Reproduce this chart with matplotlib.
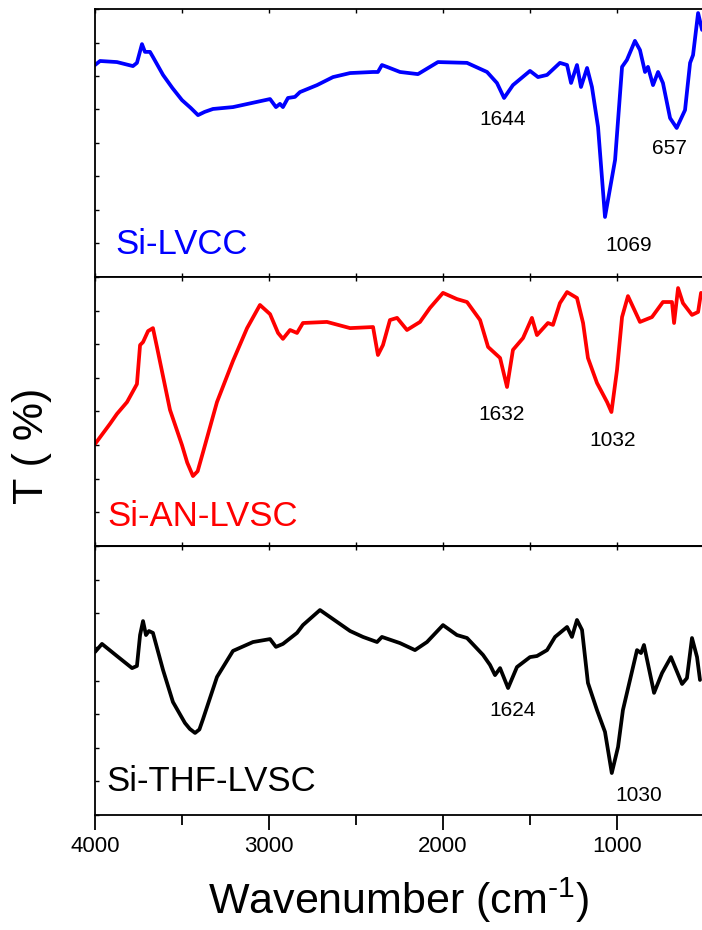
import numpy as np
import matplotlib
matplotlib.use('Agg')
import matplotlib.pyplot as plt

plt.rcParams['font.family'] = ['Liberation Sans', 'DejaVu Sans']
plt.rcParams['mathtext.fontset'] = 'custom'
plt.rcParams['mathtext.rm'] = 'Liberation Sans'
plt.rcParams['mathtext.it'] = 'Liberation Sans'

# Spectra (wavenumber in cm-1, transmittance in arbitrary units per panel)
wn_lvcc = [4000, 3971, 3874, 3782, 3759, 3730, 3713, 3684, 3667, 3609, 3555, 3500,
           3450, 3408, 3370, 3322, 3207, 2994, 2960, 2937, 2920, 2891, 2851, 2822,
           2724, 2632, 2534, 2402, 2374, 2351, 2322, 2247, 2144, 2029, 1862, 1747,
           1690, 1649, 1598, 1500, 1454, 1402, 1328, 1287, 1264, 1230, 1207, 1172,
           1144, 1109, 1069, 1011, 971, 943, 897, 868, 839, 822, 793, 764, 736,
           695, 657, 609, 580, 563, 534, 511]
t_lvcc = [79.1, 80.6, 80.2, 78.7, 79.9, 86.9, 84.0, 84.0, 82.1, 75.4, 70.5, 66.0,
          63.1, 60.4, 61.6, 62.7, 63.4, 66.4, 63.4, 64.6, 63.4, 66.8, 67.2, 69.0,
          71.6, 74.6, 76.1, 76.5, 76.5, 79.1, 78.4, 76.5, 75.7, 80.2, 79.9, 76.5,
          72.4, 66.8, 71.6, 76.9, 74.6, 75.4, 79.9, 79.1, 72.4, 79.1, 70.9, 78.0,
          70.9, 56.0, 22.4, 43.7, 78.4, 81.0, 88.1, 84.7, 76.5, 78.4, 71.6, 76.5,
          72.4, 59.3, 55.6, 62.3, 79.9, 82.8, 98.5, 92.2]

wn_an = [4000, 3914, 3874, 3816, 3759, 3741, 3724, 3695, 3667, 3644, 3569, 3500,
         3470, 3437, 3410, 3379, 3299, 3207, 3126, 3052, 2994, 2948, 2920, 2879,
         2839, 2805, 2667, 2534, 2402, 2374, 2345, 2305, 2264, 2207, 2132, 2075,
         2000, 1920, 1862, 1787, 1741, 1672, 1632, 1598, 1540, 1489, 1460, 1397,
         1368, 1328, 1287, 1230, 1195, 1167, 1115, 1057, 1032, 1000, 971, 937,
         868, 799, 736, 684, 672, 649, 621, 569, 534, 517]
t_an = [37.9, 45.4, 49.1, 53.5, 60.2, 74.7, 75.8, 79.9, 81.0, 74.0, 50.6, 37.5,
        31.0, 26.0, 27.8, 34.9, 53.5, 68.8, 81.0, 89.6, 86.2, 79.2, 77.0, 80.3,
        79.2, 82.9, 83.3, 81.0, 81.4, 71.0, 74.7, 84.0, 84.8, 80.3, 83.3, 88.5,
        94.1, 91.8, 90.7, 84.0, 74.0, 69.9, 59.1, 72.9, 77.3, 84.8, 78.4, 82.9,
        82.2, 90.3, 94.4, 92.2, 82.9, 69.9, 60.6, 53.5, 49.8, 65.4, 85.1, 92.9,
        83.3, 85.1, 90.7, 90.7, 82.9, 95.9, 90.3, 85.9, 87.0, 94.1]

wn_thf = [4000, 3960, 3874, 3787, 3759, 3741, 3724, 3707, 3690, 3667, 3609, 3552,
          3483, 3455, 3425, 3400, 3379, 3299, 3207, 3092, 2994, 2960, 2920, 2839,
          2805, 2707, 2534, 2460, 2379, 2351, 2247, 2161, 2092, 2000, 1920, 1862,
          1770, 1730, 1701, 1672, 1626, 1575, 1500, 1460, 1402, 1356, 1287, 1259,
          1230, 1201, 1167, 1115, 1069, 1030, 994, 966, 885, 862, 845, 787, 741,
          690, 626, 598, 569, 540, 523]
t_thf = [60.6, 63.6, 59.1, 54.6, 55.4, 66.9, 72.1, 66.9, 68.4, 67.7, 53.9, 42.0,
         34.2, 32.0, 30.5, 31.8, 35.7, 51.3, 61.0, 64.3, 65.4, 62.5, 63.6, 67.7,
         70.6, 76.2, 68.4, 66.2, 64.3, 66.2, 63.9, 61.3, 64.3, 70.6, 66.9, 65.8,
         59.5, 55.8, 52.0, 54.6, 47.2, 55.0, 58.7, 59.1, 61.3, 66.2, 69.9, 66.2,
         72.5, 68.8, 49.1, 39.0, 30.9, 15.6, 25.3, 39.0, 61.3, 60.2, 63.2, 45.4,
         52.8, 58.7, 48.7, 50.9, 65.8, 58.7, 50.2]

samples = ['Si-LVCC', 'Si-AN-LVSC', 'Si-THF-LVSC']
colors = ['#0000ff', '#ff0000', '#000000']
series = [(wn_lvcc, t_lvcc), (wn_an, t_an), (wn_thf, t_thf)]

# peak annotations: (text, x, y)
peaks = [
    [('1644', 1655, 58.6), ('1069', 931, 11.9), ('657', 701, 48.1)],
    [('1632', 1661, 48.7), ('1032', 1023, 39.4)],
    [('1624', 1603, 39.0), ('1030', 874, 7.4)],
]
name_pos = [(3885, 12.0), (3931, 10.8), (3937, 12.3)]

W, H = 702, 930
fig = plt.figure(figsize=(W / 100, H / 100), dpi=100)

edges = [9, 277, 546, 815]
left, right = 95, 704

axes = []
for i in range(3):
    top_px, bot_px = edges[i], edges[i + 1]
    ax = fig.add_axes([left / W, 1 - bot_px / H,
                       (right - left) / W, (bot_px - top_px) / H])
    axes.append(ax)

    wn, t = series[i]
    ax.plot(wn, t, color=colors[i], linewidth=2.7, solid_joinstyle='round',
            solid_capstyle='round')

    ax.set_xlim(4000, 500)
    ax.set_ylim(0, 100)
    ax.set_xticks([4000, 3000, 2000, 1000])
    ax.set_xticks([3500, 2500, 1500], minor=True)
    ax.set_yticks(np.arange(0, 101, 12.5))
    ax.set_yticklabels([])

    for s in ax.spines.values():
        s.set_linewidth(1.3)

    ax.tick_params(axis='y', which='both', direction='in', length=3,
                   width=1.0, left=True, right=False)
    if i < 2:
        ax.tick_params(axis='x', which='both', direction='in', length=3,
                       width=1.0, top=True, bottom=True, labelbottom=False)
    else:
        ax.tick_params(axis='x', which='major', direction='out', length=11,
                       width=1.3, top=False, labelsize=16, pad=4)
        ax.tick_params(axis='x', which='minor', direction='out', length=7,
                       width=1.3, top=False)

    nx, ny = name_pos[i]
    ax.text(nx, ny, samples[i], color=colors[i], fontsize=25,
            ha='left', va='center')
    for txt, px, py in peaks[i]:
        ax.text(px, py, txt, fontsize=15, ha='center', va='center')

sec = axes[2].secondary_xaxis('top')
sec.set_xticks([4000, 3000, 2000, 1000, 3500, 2500, 1500])
sec.tick_params(direction='in', length=3, width=1.0, labeltop=False)

fig.text(399 / W, 1 - 900 / H, r'Wavenumber (cm$^{\text{-1}}$)', fontsize=31,
         ha='center', va='center')
fig.text(32 / W, 1 - 446 / H, 'T ( %)', fontsize=31, rotation=90,
         ha='center', va='center')

fig.savefig('out.png', dpi=100)
